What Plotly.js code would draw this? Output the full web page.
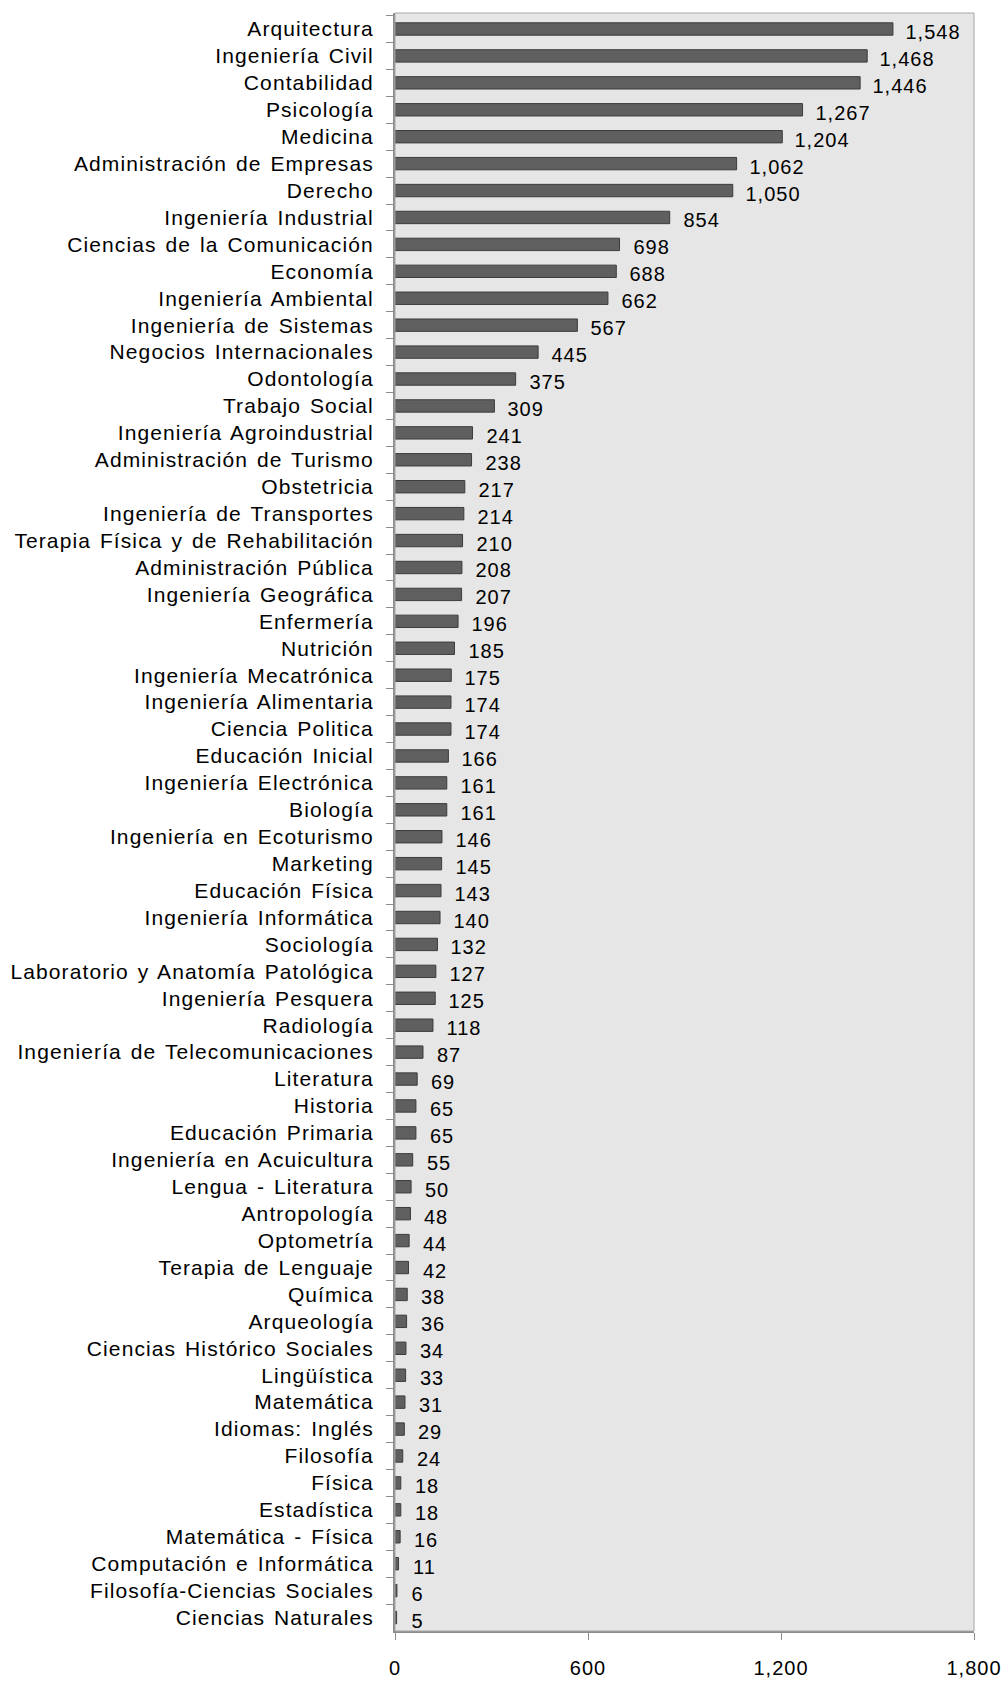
<!DOCTYPE html>
<html>
<head>
<meta charset="utf-8">
<script src="https://cdn.plot.ly/plotly-3.0.1.min.js"></script>
<style>
html, body { margin: 0; padding: 0; background: #fff; }
#chart { width: 1005px; height: 1681px; }
#chart .xtick text, #chart .annotation-text { letter-spacing: 1px; }
#chart .ytick text { letter-spacing: 1.1px; word-spacing: 2px; }
</style>
</head>
<body>
<div id="chart"></div>
<script>
const categories = [
  "Arquitectura", "Ingeniería Civil", "Contabilidad", "Psicología", "Medicina",
  "Administración de Empresas", "Derecho", "Ingeniería Industrial", "Ciencias de la Comunicación", "Economía",
  "Ingeniería Ambiental", "Ingeniería de Sistemas", "Negocios Internacionales", "Odontología", "Trabajo Social",
  "Ingeniería Agroindustrial", "Administración de Turismo", "Obstetricia", "Ingeniería de Transportes", "Terapia Física y de Rehabilitación",
  "Administración Pública", "Ingeniería Geográfica", "Enfermería", "Nutrición", "Ingeniería Mecatrónica",
  "Ingeniería Alimentaria", "Ciencia Politica", "Educación Inicial", "Ingeniería Electrónica", "Biología",
  "Ingeniería en Ecoturismo", "Marketing", "Educación Física", "Ingeniería Informática", "Sociología",
  "Laboratorio y Anatomía Patológica", "Ingeniería Pesquera", "Radiología", "Ingeniería de Telecomunicaciones", "Literatura",
  "Historia", "Educación Primaria", "Ingeniería en Acuicultura", "Lengua - Literatura", "Antropología",
  "Optometría", "Terapia de Lenguaje", "Química", "Arqueología", "Ciencias Histórico Sociales",
  "Lingüística", "Matemática", "Idiomas: Inglés", "Filosofía", "Física",
  "Estadística", "Matemática - Física", "Computación e Informática", "Filosofía-Ciencias Sociales", "Ciencias Naturales"
];
const values = [
  1548, 1468, 1446, 1267, 1204,
  1062, 1050, 854, 698, 688,
  662, 567, 445, 375, 309,
  241, 238, 217, 214, 210,
  208, 207, 196, 185, 175,
  174, 174, 166, 161, 161,
  146, 145, 143, 140, 132,
  127, 125, 118, 87, 69,
  65, 65, 55, 50, 48,
  44, 42, 38, 36, 34,
  33, 31, 29, 24, 18,
  18, 16, 11, 6, 5
];
const xTicks = [0, 600, 1200, 1800];

const FONT = "Liberation Sans, Arial, Helvetica, sans-serif";
const fmt = v => v.toLocaleString("en-US");

const trace = {
  type: "bar",
  orientation: "h",
  x: values,
  y: categories,
  marker: { color: "#5f5f5f", line: { color: "#3c3c3c", width: 1 } },
  hoverinfo: "x+y"
};

const annotations = values.map((v, i) => ({
  x: v, y: categories[i], xref: "x", yref: "y",
  text: fmt(v), showarrow: false,
  xanchor: "left", yanchor: "middle",
  xshift: 13, yshift: -3,
  font: { family: FONT, size: 20, color: "#000" }
}));

const layout = {
  width: 1005, height: 1681,
  margin: { l: 395, r: 31, t: 13, b: 50 },
  paper_bgcolor: "#ffffff",
  plot_bgcolor: "#e6e6e6",
  showlegend: false,
  bargap: 0.54,
  font: { family: FONT, size: 20, color: "#000" },
  xaxis: {
    range: [0, 1800],
    tickvals: xTicks,
    ticktext: xTicks.map(fmt),
    showgrid: false, zeroline: false,
    showline: true, linecolor: "#8c8c8c", linewidth: 2,
    ticks: "outside", ticklen: 7, tickcolor: "#8c8c8c", tickwidth: 1,
    ticklabelstandoff: 11,
    tickfont: { family: FONT, size: 20, color: "#000" },
    fixedrange: true
  },
  yaxis: {
    type: "category",
    autorange: "reversed",
    showgrid: false, zeroline: false,
    showline: true, linecolor: "#8c8c8c", linewidth: 2,
    ticks: "outside", ticklen: 7, tickcolor: "#8c8c8c", tickwidth: 1,
    tickson: "boundaries",
    ticklabelstandoff: 15,
    tickfont: { family: FONT, size: 21, color: "#000" },
    fixedrange: true
  },
  shapes: [{
    type: "rect", xref: "paper", yref: "paper",
    x0: 0, x1: 1, y0: 0, y1: 1,
    line: { color: "#a6a6a6", width: 1 }, fillcolor: "rgba(0,0,0,0)", layer: "above"
  }],
  annotations: annotations
};

Plotly.newPlot("chart", [trace], layout, { displayModeBar: false, staticPlot: true });
</script>
</body>
</html>
